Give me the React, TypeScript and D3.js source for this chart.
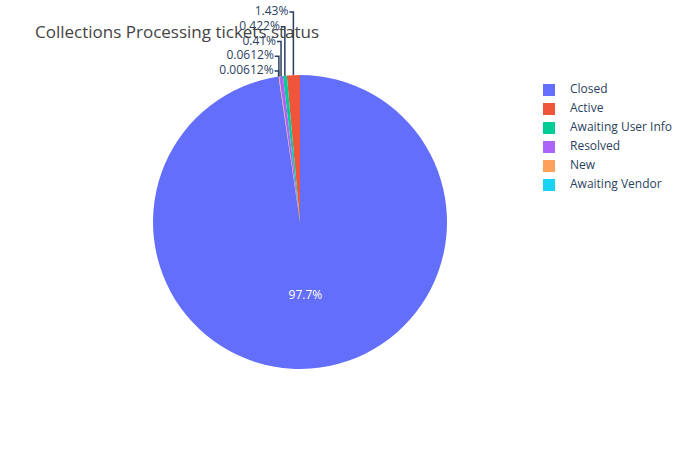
import * as d3 from 'd3'

const categories = ['Closed', 'Active', 'Awaiting User Info', 'Resolved', 'New', 'Awaiting Vendor']
const counts = [15959, 234, 69, 67, 10, 1]
const colors = ['#636efa', '#EF553B', '#00cc96', '#ab63fa', '#FFA15A', '#19d3f3']

const App = () => {
  const cx = 300
  const cy = 222
  const r = 147
  const total = d3.sum(counts)
  const start = (2 * Math.PI * counts[0]) / total
  const pie = d3.pie<number>().sort(null).startAngle(start).endAngle(start - 2 * Math.PI)
  const arcs = pie(counts)
  const arc = d3.arc<d3.PieArcDatum<number>>().innerRadius(0).outerRadius(r)
  const fmt = (v: number) => {
    const p = (v / total) * 100
    return d3.format('.3~r')(p) + '%'
  }
  const font = '"Open Sans", verdana, arial, sans-serif'
  const labelY = d3.scaleLinear().domain([1, 5]).range([12, 71])

  return (
    <svg width={700} height={450} style={{ position: 'absolute', left: 0, top: 0 }} fontFamily={font}>
      <rect width={700} height={450} fill="#fff" />
      <g transform={`translate(${cx},${cy})`}>
        {arcs.map((a, i) => (
          <path key={i} d={arc(a) ?? ''} fill={colors[i]} />
        ))}
      </g>
      {arcs.map((a, i) => {
        const mid = (a.startAngle + a.endAngle) / 2
        if (i === 0) {
          return (
            <text key={i} x={cx + Math.sin(mid) * r * 0.5} y={cy - Math.cos(mid) * r * 0.5} fill="#fff"
              fontSize={12} textAnchor="middle" dominantBaseline="middle">{fmt(a.value)}</text>
          )
        }
        const mx = cx + Math.sin(mid) * r
        const my = cy - Math.cos(mid) * r
        const ly = labelY(i)
        return (
          <g key={i}>
            <path d={`M${mx},${my}V${ly}H${mx - 4}`} fill="none" stroke="#2a3f5f" strokeWidth={1.5} />
            <text x={mx - 5} y={ly} fill="#2a3f5f" fontSize={12} textAnchor="end" dominantBaseline="middle">
              {fmt(a.value)}
            </text>
          </g>
        )
      })}
      <text x={35} y={38} fontSize={17} fill="#444">Collections Processing tickets status</text>
      {categories.map((c, i) => (
        <g key={c} transform={`translate(543,${90 + i * 19})`}>
          <rect x={0} y={-6} width={12} height={12} fill={colors[i]} />
          <text x={27} y={0} fontSize={12} fill="#2a3f5f" dominantBaseline="middle">{c}</text>
        </g>
      ))}
    </svg>
  )
}

export default App
